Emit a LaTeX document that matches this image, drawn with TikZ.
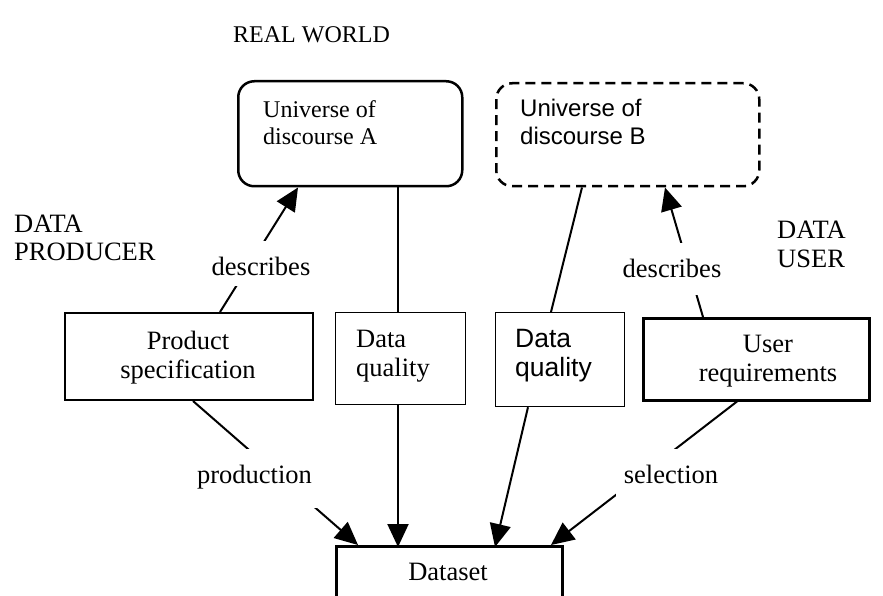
\documentclass[tikz,border=0pt]{standalone}
\usepackage{fontspec}
\setmainfont{Liberation Serif}
\newfontfamily\arialf{Liberation Sans}
\usetikzlibrary{arrows.meta}
\begin{document}
\begin{tikzpicture}[x=1pt,y=-1pt,
  big/.style={font=\fontsize{26.5}{29}\selectfont, inner sep=0pt},
  small/.style={font=\fontsize{24}{27}\selectfont, inner sep=0pt},
  box/.style={draw, rectangle, anchor=north west, inner sep=0pt, fill=white},
  ln/.style={line width=2pt},
  arr/.style={line width=2pt, -{Triangle[length=23pt,width=21pt]}},
  lbl/.style={fill=white, inner xsep=8pt, inner ysep=0pt, anchor=base, font=\fontsize{26.5}{29}\selectfont}
]
\useasboundingbox (0,0) rectangle (883,596);
\clip (0,0) rectangle (883,596);

% boxes
\node[box, line width=2.5pt, rounded corners=16pt, minimum width=224pt, minimum height=105pt] (A) at (237,80) {};
\node[box, line width=2.5pt, rounded corners=16pt, dash pattern=on 10pt off 6pt, minimum width=263pt, minimum height=103pt] (B) at (495,82) {};
\node[box, line width=2pt, minimum width=248pt, minimum height=87pt] (ps) at (64,312) {};
\node[box, line width=1.2pt, minimum width=130pt, minimum height=92pt] (dq1) at (335,312) {};
\node[box, line width=1.2pt, minimum width=129pt, minimum height=94pt] (dq2) at (495,312) {};
\node[box, line width=2.5pt, minimum width=226pt, minimum height=82pt] (ur) at (642,317) {};
\node[box, line width=2.5pt, minimum width=226pt, minimum height=90pt] (ds) at (335,545) {};

% connectors
\draw[arr] ([xshift=156pt]ps.north west) -- ([xshift=61pt]A.south west);
\draw[ln] ([xshift=63pt]dq1.north west) -- ([xshift=161pt]A.south west);
\draw[arr] ([xshift=63pt]dq1.south west) -- ([xshift=63pt,yshift=-2pt]ds.north west);
\draw[ln] ([xshift=87pt]B.south west) -- ([xshift=56pt]dq2.north west);
\draw[arr] ([xshift=33pt]dq2.south west) -- ([xshift=160pt,yshift=-2pt]ds.north west);
\draw[arr] ([xshift=61pt]ur.north west) -- ([xshift=170pt]B.south west);
\draw[arr] ([xshift=129pt]ps.south west) -- ([xshift=23pt]ds.north west);
\draw[arr] ([xshift=95pt]ur.south west) -- ([xshift=216pt]ds.north west);

% connector labels
\node[lbl, text height=34pt, text depth=11pt] (l1) at (261,275) {describes};
\node[lbl, text height=34pt, text depth=18pt] (l2) at (672,277) {describes};
\node[lbl, text height=34pt, text depth=25pt] (l3) at (254.5,483) {production};
\node[lbl, text height=34pt, text depth=24pt] (l4) at (671,483) {selection};

% free texts
\node[small, anchor=base west] (rw) at (233,43) {REAL WORLD};
\node[big, anchor=base west] (dp1) at (14,232) {DATA};
\node[big, anchor=base west] (dp2) at (14,260) {PRODUCER};
\node[big, anchor=base west] (du1) at (777,238) {DATA};
\node[big, anchor=base west] (du2) at (777,267) {USER};

% box texts
\node[small, anchor=base west] (ta1) at (263,118) {Universe of};
\node[small, anchor=base west] (ta2) at (263,145) {discourse A};
\node[small, anchor=base west, font=\arialf\fontsize{24}{27}\selectfont] (tb1) at (520,117) {Universe of};
\node[small, anchor=base west, font=\arialf\fontsize{24}{27}\selectfont] (tb2) at (520,145) {discourse B};
\node[big, anchor=base] (tp1) at (188,349) {Product};
\node[big, anchor=base] (tp2) at (188,378) {specification};
\node[big, anchor=base west] (tq1) at (356,347) {Data};
\node[big, anchor=base west] (tq2) at (356,376) {quality};
\node[big, anchor=base west, font=\arialf\fontsize{26.5}{29}\selectfont] (tr1) at (515,347) {Data};
\node[big, anchor=base west, font=\arialf\fontsize{26.5}{29}\selectfont] (tr2) at (515,376) {quality};
\node[big, anchor=base] (tu1) at (768,352) {User};
\node[big, anchor=base] (tu2) at (768,381) {requirements};
\node[big, anchor=base] (td) at (448,580) {Dataset};
\end{tikzpicture}
\end{document}
